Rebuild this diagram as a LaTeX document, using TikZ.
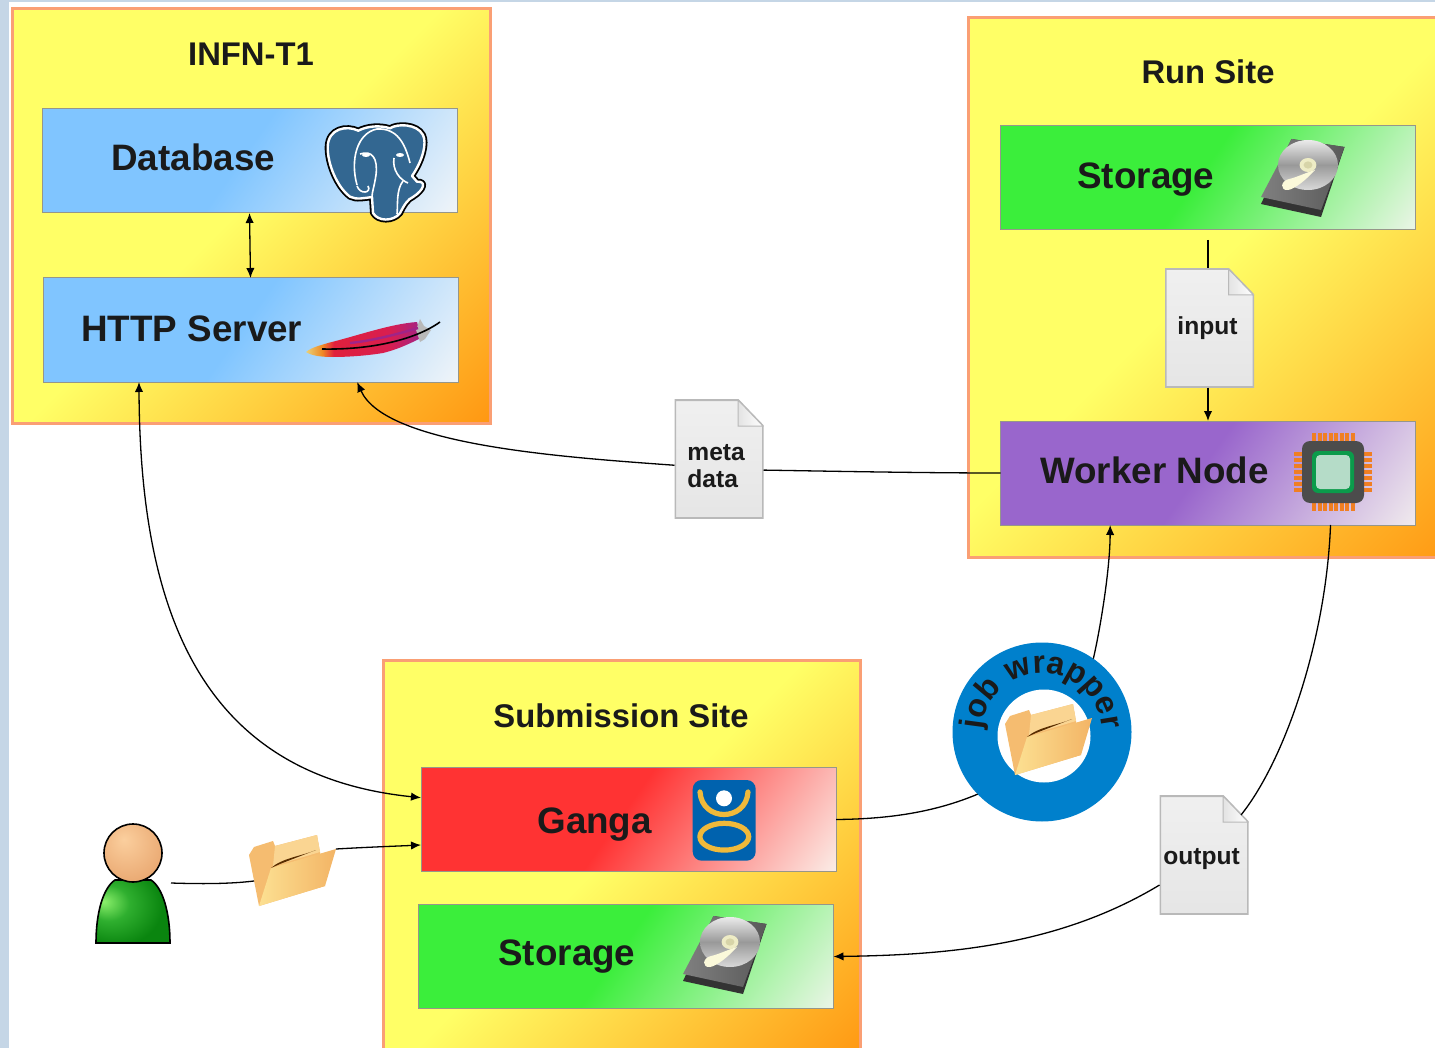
\documentclass[tikz,border=0pt]{standalone}
\usepackage{fontspec}
\setmainfont{Liberation Sans}
\usepackage{xcolor}
\usetikzlibrary{calc, arrows.meta, decorations.text}

\definecolor{pageblue}{HTML}{C5D6E6}
\definecolor{siteedge}{HTML}{FA9F74}
\definecolor{boxedge}{HTML}{96968A}
\definecolor{inktext}{HTML}{1A1A1A}
\definecolor{ringblue}{HTML}{0080CC}
\definecolor{gangablue}{HTML}{0062AE}
\definecolor{gangagold}{HTML}{F0B93A}
\definecolor{pgblue}{HTML}{336791}
\definecolor{pinorange}{HTML}{F07F22}
\definecolor{chipgreen}{HTML}{0B9B4B}
\definecolor{chipcore}{HTML}{B5DCC8}
\definecolor{folderback}{HTML}{F5BC70}
\definecolor{foldertop}{HTML}{FAD592}
\definecolor{folderlight}{HTML}{FCE092}
\definecolor{folderdark}{HTML}{F3B465}
\definecolor{siteA}{HTML}{FFFF66}
\definecolor{siteB}{HTML}{FF9510}
\definecolor{blueA}{HTML}{80C5FF}
\definecolor{blueB}{HTML}{F2F5F8}
\definecolor{greenA}{HTML}{3BEE3B}
\definecolor{greenB}{HTML}{EEF5EA}
\definecolor{redA}{HTML}{FF3333}
\definecolor{redB}{HTML}{FBF0EA}
\definecolor{purpleA}{HTML}{9966CC}
\definecolor{purpleB}{HTML}{F2EDEE}
\definecolor{quillA}{HTML}{E8D27A}
\definecolor{quillB}{HTML}{F08A24}
\definecolor{quillC}{HTML}{E0203C}
\definecolor{quillD}{HTML}{D81E50}
\definecolor{quillE}{HTML}{A02488}
\definecolor{bodyA}{HTML}{8CF06C}
\definecolor{bodyB}{HTML}{2FAF2F}
\definecolor{bodyC}{HTML}{0A850F}
\definecolor{headA}{HTML}{FBCF9E}
\definecolor{headB}{HTML}{E39A61}

\pgfdeclarehorizontalshading{fadesite}{100bp}{color(0bp)=(siteA); color(48bp)=(siteA); color(100bp)=(siteB)}
\pgfdeclarehorizontalshading{fadeblue}{100bp}{color(0bp)=(blueA); color(48bp)=(blueA); color(100bp)=(blueB)}
\pgfdeclarehorizontalshading{fadegreen}{100bp}{color(0bp)=(greenA); color(48bp)=(greenA); color(100bp)=(greenB)}
\pgfdeclarehorizontalshading{fadered}{100bp}{color(0bp)=(redA); color(48bp)=(redA); color(100bp)=(redB)}
\pgfdeclarehorizontalshading{fadepurple}{100bp}{color(0bp)=(purpleA); color(48bp)=(purpleA); color(100bp)=(purpleB)}
\pgfdeclarehorizontalshading{featherfill}{100bp}{color(0bp)=(quillA); color(14bp)=(quillB); color(24bp)=(quillC); color(72bp)=(quillD); color(100bp)=(quillE)}
\pgfdeclareradialshading{headball}{\pgfpoint{-8bp}{12bp}}{color(0bp)=(headA); color(45bp)=(headB); color(70bp)=(headB)}
\pgfdeclareradialshading{bodyball}{\pgfpoint{-20bp}{8bp}}{color(0bp)=(bodyA); color(14bp)=(bodyB); color(32bp)=(bodyC); color(80bp)=(bodyC)}

\tikzset{
fade/.style n args={4}{path picture={
\node[inner sep=0pt, outer sep=0pt, rotate=#2, xscale=#3, yscale=#4] (fadefill) at (path picture bounding box.center) {\pgfuseshading{#1}};
}},
sitebox/.style={draw=siteedge, line width=1.5pt, inner sep=0pt, outer sep=0pt},
innerbox/.style={draw=boxedge, line width=0.5pt, inner sep=0pt, outer sep=0pt, minimum width=207.5pt, minimum height=52pt, fade={#1}{-35}{2.02}{1.75}},
sitetitle/.style={anchor=base, text=inktext, font=\fontsize{16.4}{20}\selectfont\bfseries},
boxlabel/.style={anchor=base west, inner sep=0pt, text=inktext, font=\fontsize{18.4}{22}\selectfont\bfseries},
link/.style={line width=0.65pt, black, >={Latex[length=5pt,width=4.2pt]}},
docfile/.style={inner sep=0pt, outer sep=0pt, minimum width=44.5pt, minimum height=59.5pt, path picture={
\begin{scope}[shift={(path picture bounding box.center)}]
\path[shade, top color=gray!12, bottom color=gray!20, draw=gray!55, line width=1pt] (-44,-59) -- (19,-59) -- (44,-33) -- (44,59) -- (-44,59) -- cycle;
\path[shade, left color=gray!22, right color=white, draw=gray!55, line width=0.5pt] (19,-59) -- (19,-33) -- (44,-33) -- cycle;
\end{scope}
}},
doctext/.style={anchor=base west, inner sep=0pt, text=inktext, font=\fontsize{12.3}{13.5}\selectfont\bfseries},
diskicon/.pic={
\fill[black!80] (-11.5,-40) -- (41.5,-32) -- (18,38) -- (-42,25) -- cycle;
\path[shade, left color=black!50, right color=black!65] (-11.5,-40) -- (41.5,-32) -- (18,31) -- (-42,18) -- cycle;
\path[shade, top color=black!8, bottom color=black!15, middle color=black!40] (5,-14) ellipse[x radius=15pt, y radius=12.5pt];
\fill[black!30!yellow!25!white] (5,-14) ellipse[x radius=4.2pt, y radius=3.5pt];
\fill[black!45!yellow!40!white] (5,-14) ellipse[x radius=2.2pt, y radius=1.8pt];
\fill[black!12!yellow!15!white] (12,-9) .. controls (2,-6) and (-8,-1) .. (-14,0) .. controls (-23,2) and (-23,12) .. (-15,11) .. controls (-8,10) and (4,0) .. cycle;
},
foldericon/.pic={
\fill[folderback] (-43,-15) -- (-38,-23) -- (-19,-29) -- (-17,-24) -- (25,-35) -- (28,-18) -- (33,16) -- (-33,36) -- cycle;
\fill[foldertop] (-17,-24) -- (25,-35) -- (28,-18) -- (-19,-4) -- cycle;
\path[shade, left color=folderlight, right color=folderdark] (-33,36) -- (-21,-2) -- (44,-21) -- (33,16) -- cycle;
\fill[black!65!orange] (-21,-2) .. controls (-10,-12) and (10,-14) .. (24,-20) -- (-12,-6) -- cycle;
\coordinate (-in) at (-38,11);
\coordinate (-out) at (44,-21);
},
personicon/.pic={
\path[shading=bodyball, draw=black, line width=0.8pt] (-37,60) .. controls (-37,30) and (-30,5) .. (-18,-3) -- (18,-3) .. controls (30,5) and (37,30) .. (37,60) -- cycle;
\path[shading=headball, draw=black, line width=0.8pt] (0,-30) circle (14.5pt);
\coordinate (-out) at (38,0);
},
}

\begin{document}
\begin{tikzpicture}[x=0.5pt, y=-0.5pt]
\path[use as bounding box, clip] (0,0) rectangle (1435,1048);
\fill[pageblue] (0,0) rectangle (1435,1048);
\fill[white] (9,2) rectangle (1435,1048);

% the three sites
\node[sitebox, minimum width=239pt, minimum height=207.5pt, fade={fadesite}{-45}{3.2}{3.5}] (infn) at (251.5,216) {};
\node[sitebox, minimum width=246pt, minimum height=269.5pt, fade={fadesite}{-45}{3.7}{3.8}] (runsite) at (1214,287.5) {};
\node[sitebox, minimum width=238.5pt, minimum height=200pt, fade={fadesite}{-45}{3.15}{3.4}] (subsite) at (622,860) {};
\node[sitetitle] (infntitle) at (251,66) {INFN-T1};
\node[sitetitle] (runtitle) at (1208,84) {Run Site};
\node[sitetitle] (subtitle) at (621,727) {Submission Site};

% service boxes
\node[innerbox=fadeblue] (db) at (249.5,161) {};
\node[innerbox=fadeblue] (http) at (250.5,330) {};
\node[innerbox=fadegreen] (runstore) at (1208,178) {};
\node[innerbox=fadepurple] (worker) at (1208,473) {};
\node[innerbox=fadered] (ganga) at (628.5,819.5) {};
\node[innerbox=fadegreen] (substore) at (626,956.5) {};
\node[boxlabel] (dblabel) at (111,171) {Database};
\node[boxlabel] (httplabel) at (81,342) {HTTP Server};
\node[boxlabel] (runstorelabel) at (1077,189) {Storage};
\node[boxlabel] (workerlabel) at (1040,483) {Worker Node};
\node[boxlabel] (gangalabel) at (537,833) {Ganga};
\node[boxlabel] (substorelabel) at (498,965) {Storage};

% icons
\pic at (1303,179) {diskicon};
\pic at (725,956) {diskicon};

\begin{scope}[shift={(1333,472)}]
\foreach \p in {-19,-13.5,-8,-2.5,3,8.5,14,19.5}{
\fill[pinorange] (\p-2,-39) rectangle (\p+2,-29);
\fill[pinorange] (\p-2,29) rectangle (\p+2,39);
}
\foreach \p in {-18,-12,-6,0,6,12,18}{
\fill[pinorange] (-39,\p-2) rectangle (-29,\p+2);
\fill[pinorange] (29,\p-2) rectangle (39,\p+2);
}
\fill[black!70, rounded corners=4pt] (-31,-31) rectangle (31,31);
\fill[chipgreen, rounded corners=3pt] (-21,-21) rectangle (21,21);
\fill[chipcore, rounded corners=2pt] (-17,-17) rectangle (17,17);
\end{scope}

% elephant
\draw[black, line width=3pt, line join=round] (358.3,130.7) .. controls (346.7,125) and (328.3,128.3) .. (327.7,146.7) .. controls (327.3,163.3) and (336.7,186.7) .. (350,196.7) .. controls (356,200) and (365,198) .. (372,197) -- (373,213) .. controls (378,221.7) and (393,221.7) .. (400,213.3) .. controls (404,205) and (408,199) .. (413,197) .. controls (424,190) and (427,181) .. (417,181.7) -- (412,176) .. controls (423,160) and (427,143) .. (423,135) .. controls (417,123.5) and (397,123.5) .. (390,128.3) .. controls (380,125) and (367,126) .. (358.3,130.7) -- cycle;
\draw[white, fill=pgblue, line width=1.2pt, line join=round] (358.3,130.7) .. controls (346.7,125) and (328.3,128.3) .. (327.7,146.7) .. controls (327.3,163.3) and (336.7,186.7) .. (350,196.7) .. controls (356,200) and (365,198) .. (372,197) -- (373,213) .. controls (378,221.7) and (393,221.7) .. (400,213.3) .. controls (404,205) and (408,199) .. (413,197) .. controls (424,190) and (427,181) .. (417,181.7) -- (412,176) .. controls (423,160) and (427,143) .. (423,135) .. controls (417,123.5) and (397,123.5) .. (390,128.3) .. controls (380,125) and (367,126) .. (358.3,130.7) -- cycle;
\draw[white, line width=0.8pt] (357,185) .. controls (350,160) and (357,133) .. (377,129) .. controls (397,128) and (405,143) .. (410,163);
\draw[white, line width=0.8pt] (360,154) .. controls (372,150) and (378,158) .. (376,175) .. controls (374,188) and (372,192) .. (372,197);
\draw[white, line width=0.8pt] (394,158) .. controls (392,170) and (400,180) .. (408,183);
\draw[white, line width=0.8pt] (357,186) .. controls (360,195) and (372,193) .. (368,186);
\draw[white, line width=0.8pt] (403,181) .. controls (396,190) and (398,205) .. (397,214);
\fill[white] (366,155) ellipse[x radius=2pt, y radius=1pt];
\fill[white] (400,155) ellipse[x radius=2pt, y radius=1pt];

% feather
\begin{scope}
\clip (306,352) .. controls (312,347) and (322,345) .. (328,343) .. controls (360,335) and (390,324) .. (417,322) -- (421,338) .. controls (405,346) and (395,350) .. (383,353) .. controls (365,356) and (345,357) .. (333,357) .. controls (322,357) and (312,356) .. (306,352) -- cycle;
\node[inner sep=0pt, xscale=0.58, yscale=0.4] (featherfillnode) at (364,340) {\pgfuseshading{featherfill}};
\end{scope}
\fill[gray!55] (416,330) -- (420,319) -- (424,326) -- (431,330) -- (425,339) -- (420,342) -- cycle;
\draw[quillE, line width=1.2pt] (350,343) .. controls (370,341) and (395,335) .. (418,328);
\draw[black, line width=0.8pt] (322,349) .. controls (370,350) and (415,340) .. (440,322);

% ganga logo
\fill[gangablue, rounded corners=4.5pt] (692.7,780) rectangle (755.7,860.7);
\draw[gangagold, line width=2.6pt, line cap=round] (700,792) .. controls (702,822) and (746,822) .. (748,792);
\draw[gangagold, line width=2.6pt] (724.3,836.7) ellipse[x radius=12.2pt, y radius=6.7pt];
\fill[white] (724,798.3) circle (4pt);

% people and folders
\pic (user) at (133,883) {personicon};
\pic (folderA) at (292,870) {foldericon};

% job wrapper ring
\node[circle, fill=ringblue, minimum size=89.5pt, inner sep=0pt, outer sep=0pt] (ring) at (1042,732) {};
\node[circle, fill=white, minimum size=46.5pt, inner sep=0pt] (ringhole) at (1044,736) {};
\path[decorate, decoration={text along path, text align=center, text={|\fontsize{16}{18}\selectfont\bfseries\color{inktext}|job wrapper}}] (982,731) arc[start angle=178, end angle=2, radius=30pt];
\pic (folderB) at (1048,739) {foldericon};

% file pages
\node[docfile] (input) at (1209.5,328) {};
\node[docfile] (meta) at (719,459) {};
\node[docfile] (output) at (1204,855) {};
\node[doctext] (inputtext) at (1177,335) {input};
\node[doctext, align=left] (metatext) at (687,487) {meta\\data};
\node[doctext] (outputtext) at (1163,864) {output};

% connectors
\coordinate (inputtop) at (1208,240);
\draw[link, <->] (db.south) -- (http.north);
\draw[link] (inputtop) -- (inputtop |- input.north);
\draw[link, ->] (inputtop |- input.south) -- (inputtop |- worker.north);
\draw[link] (worker.west) .. controls (920,473) and (820,471) .. (meta.-14);
\draw[link, ->] (meta.188) .. controls (560,457) and (385,445) .. (http.-26.4);
\draw[link, <->] (http.205) .. controls (140,610) and (200,775) .. (ganga.174.6);
\draw[link] (user-out) .. controls (200,884) and (230,884) .. (folderA-in);
\draw[link, ->] (folderA-out) .. controls (370,847) and (400,846) .. (ganga.187.3);
\draw[link] (ganga.east) .. controls (890,819) and (935,812) .. (ring.224);
\draw[link, ->] (ring.55) .. controls (1100,630) and (1110,570) .. (worker.208);
\draw[link] (worker.-23) .. controls (1326,640) and (1285,760) .. ($(output)+(37,-40)$);
\draw[link, ->] (output.214) .. controls (1060,945) and (950,955) .. (substore.east);
\end{tikzpicture}
\end{document}
